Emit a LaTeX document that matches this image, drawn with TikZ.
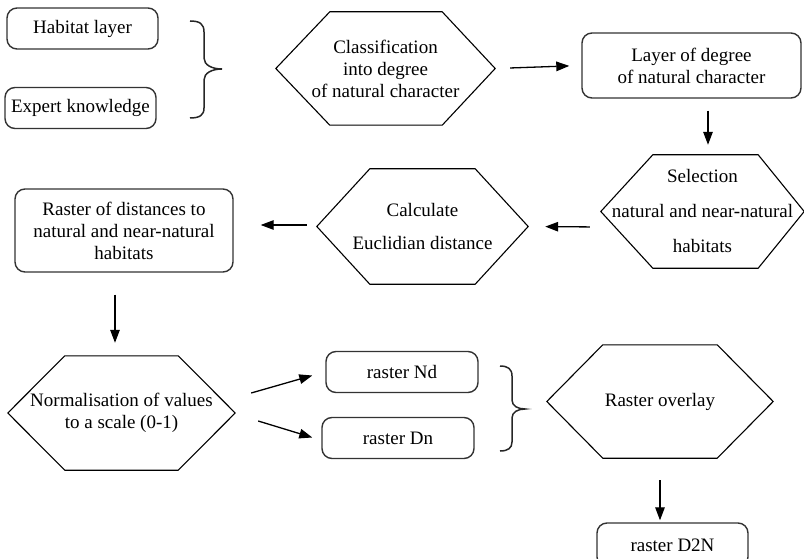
\documentclass[tikz,border=0pt]{standalone}
\usepackage{fontspec}
\setmainfont{Liberation Serif}
\usetikzlibrary{arrows.meta}
\tikzset{
  boxnode/.style={draw=black!80, line width=1.4pt, rounded corners=10pt, inner sep=0pt, align=center,
    font=\fontsize{19}{22}\selectfont},
  hexnode/.style={inner sep=0pt, align=center, font=\fontsize{19}{22}\selectfont},
  hexline/.style={draw=black, line width=1.1pt, line join=miter},
  arr/.style={line width=1.3pt, -{Triangle[length=13pt,width=9.5pt]}},
  bracepath/.style={line width=1.5pt, draw=black!85}
}
\newcommand{\hexdraw}[3]{%
  \draw[hexline] (#1.west) -- ([xshift=#2]#1.north west) -- ([xshift=-#3]#1.north east) -- (#1.east)
    -- ([xshift=-#3]#1.south east) -- ([xshift=#2]#1.south west) -- cycle;}
\begin{document}
\begin{tikzpicture}[x=1pt,y=-1pt]
\useasboundingbox (0,0) rectangle (804,559);
\clip (0,0) rectangle (804,559);

% boxes
\node[boxnode, minimum width=151pt, minimum height=41pt] (hab) at (82.5,28.5) {Habitat layer};
\node[boxnode, minimum width=151pt, minimum height=41pt] (exp) at (80.5,108) {Expert knowledge};
\node[boxnode, minimum width=219pt, minimum height=65pt] (lay) at (691.5,65.5) {Layer of degree\\of natural character};
\node[boxnode, minimum width=218pt, minimum height=83pt] (ras) at (124,230.5) {Raster of distances to\\natural and near-natural\\habitats};
\node[boxnode, minimum width=152pt, minimum height=41pt] (nd) at (402,372) {raster Nd};
\node[boxnode, minimum width=152pt, minimum height=41pt] (dn) at (398,438) {raster Dn};
\node[boxnode, minimum width=151pt, minimum height=44pt] (d2n) at (672.5,545) {raster D2N};

% hexagons
\node[hexnode, minimum width=219pt, minimum height=113pt] (cls) at (385.5,68.5) {Classification\\into degree\\ of natural character};
\hexdraw{cls}{54pt}{53pt}
\node[hexnode, minimum width=203pt, minimum height=113pt] (sel) at (702.5,211.5) {Selection\\[13pt]natural and near-natural\\[13pt]habitats};
\hexdraw{sel}{52pt}{46pt}
\node[hexnode, minimum width=211pt, minimum height=115pt] (calc) at (422.5,226.5) {Calculate\\[11pt]Euclidian distance};
\hexdraw{calc}{53pt}{53pt}
\node[hexnode, minimum width=227pt, minimum height=114pt] (norm) at (121.5,413) {Normalisation of values\\to a scale (0-1)};
\hexdraw{norm}{57pt}{57pt}
\node[hexnode, minimum width=226pt, minimum height=113pt] (over) at (660,401.5) {\raisebox{-3pt}{Raster overlay}};
\hexdraw{over}{56pt}{56pt}

% braces
\draw[bracepath] (190,21) .. controls (200,21) and (204,24) .. (204,32) -- (204,58)
  .. controls (204,65) and (212,69) .. (222,69) .. controls (212,69) and (204,73) .. (204,80)
  -- (204,108) .. controls (204,115) and (200,118) .. (190,118);
\draw[bracepath] (500,366) .. controls (508,366) and (512,369) .. (512,376) -- (512,400)
  .. controls (512,406) and (518,409) .. (525,409) .. controls (518,409) and (512,412) .. (512,418)
  -- (512,442) .. controls (512,448) and (508,451) .. (500,451);

% connectors
\draw[arr, shorten <=15pt, shorten >=12pt] (cls.east) -- (lay.west);
\draw[arr, shorten <=12pt, shorten >=10pt] ([xshift=16.5pt]lay.south) -- ([xshift=5.5pt]sel.north);
\draw[arr, shorten <=11pt, shorten >=17pt] ([yshift=-15.5pt]sel.west) -- ([yshift=0pt]calc.east);
\draw[arr, shorten <=10pt, shorten >=27pt] ([yshift=1.5pt]calc.west) -- ([yshift=5.5pt]ras.east);
\draw[arr, shorten <=22pt, shorten >=13pt] ([xshift=-9pt]ras.south) -- ([xshift=-6.5pt]norm.north);
\draw[arr] ([xshift=16pt,yshift=20pt]norm.east) -- ([xshift=-13pt,yshift=-3.5pt]nd.west);
\draw[arr] ([xshift=23pt,yshift=-8pt]norm.east) -- ([xshift=-9pt,yshift=0.5pt]dn.west);
\draw[arr, shorten <=22pt, shorten >=2pt] (over.south) -- ([xshift=-12.5pt]d2n.north);
\end{tikzpicture}
\end{document}
